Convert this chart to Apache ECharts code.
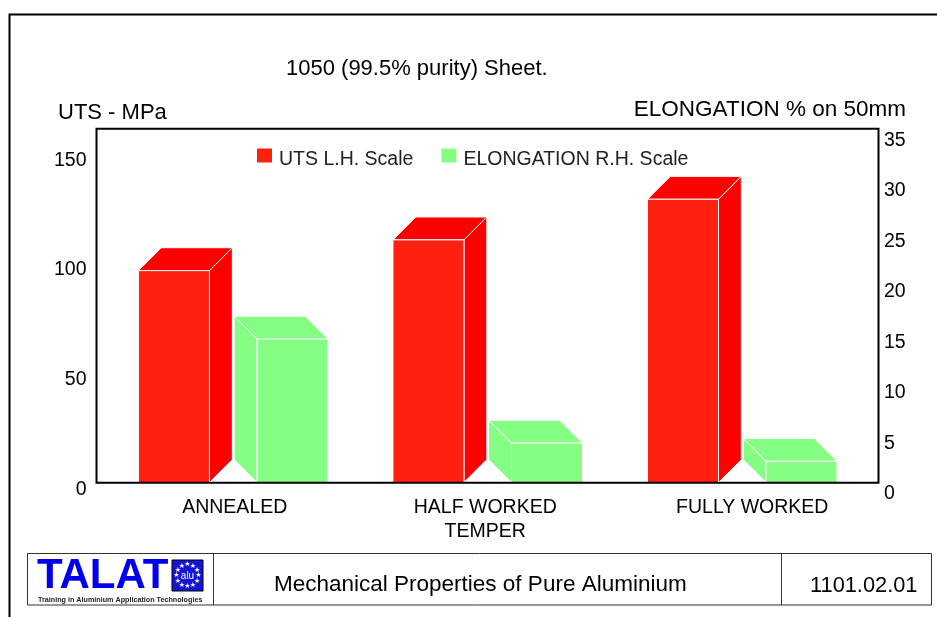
<!DOCTYPE html>
<html>
<head>
<meta charset="utf-8">
<title>Mechanical Properties of Pure Aluminium</title>
<script src="https://cdn.jsdelivr.net/npm/echarts@6/dist/echarts.min.js"></script>
<style>
  html, body { margin: 0; padding: 0; background: #fff; }
  #main { width: 937px; height: 617px; }
</style>
</head>
<body>
<div id="main"></div>
<script>
var tempers = ['ANNEALED', 'HALF WORKED\nTEMPER', 'FULLY WORKED']
var utsMPa = [96.5, 110.5, 129]
var elongationPct = [14.2, 3.9, 2.1]
var utsTicks = [0, 50, 100, 150]
var elongTicks = [0, 5, 10, 15, 20, 25, 30, 35]

var FONT = "'Liberation Sans', Arial, sans-serif"
// small horizontal nudges of the category labels, as in the original
var labelPads = [[0, 0, 0, 3], [0, 5, 0, 0], [0, 0, 0, 20]]

// 3D looking box, side = -1 puts it left of the category centre (depth goes right),
// side = 1 puts it right of the centre (depth goes left)
function box3d(side, frontColor, shadeColor) {
  return function (params, api) {
    var i = api.value(0)
    var base = api.coord([i, 0])
    var top = api.coord([i, api.value(1)])
    var band = api.size([1, 0])[0]
    var w = band * 0.279
    var d = band * 0.09
    var cx = base[0] + side * band * 0.233
    var x0 = cx - w / 2
    var x1 = cx + w / 2
    var y0 = base[1]
    var y1 = top[1]
    var dx = side < 0 ? d : -d
    var ex = side < 0 ? x1 : x0
    var edge = { stroke: '#fff', lineWidth: 1 }
    return {
      type: 'group',
      children: [
        {
          type: 'polygon',
          shape: { points: [[ex, y0], [ex, y1], [ex + dx, y1 - d], [ex + dx, y0 - d]] },
          style: Object.assign({ fill: shadeColor }, edge)
        },
        {
          type: 'polygon',
          shape: { points: [[x0, y1], [x1, y1], [x1 + dx, y1 - d], [x0 + dx, y1 - d]] },
          style: Object.assign({ fill: shadeColor }, edge)
        },
        {
          type: 'rect',
          shape: { x: x0, y: y1, width: w, height: y0 - y1 },
          style: Object.assign({ fill: frontColor }, edge)
        }
      ]
    }
  }
}

function txt(text, x, y, size, opts) {
  opts = opts || {}
  return {
    type: 'text',
    x: x,
    y: y,
    silent: true,
    style: {
      text: text,
      fontSize: size,
      fontFamily: opts.family || FONT,
      fontWeight: opts.weight || 'normal',
      fill: opts.color || '#000',
      align: opts.align || 'left',
      verticalAlign: 'middle'
    }
  }
}

// stars of the little flag
var stars = []
for (var k = 0; k < 12; k++) {
  var a = (k / 12) * Math.PI * 2
  stars.push({
    type: 'text',
    x: 187.5 + Math.cos(a) * 11,
    y: 575.5 + Math.sin(a) * 11,
    silent: true,
    style: { text: '\u2605', fontSize: 7, fontFamily: 'DejaVu Sans', fill: '#fff', align: 'center', verticalAlign: 'middle' }
  })
}

var myChart = echarts.init(document.getElementById('main'))
var option = {
  backgroundColor: '#fff',
  animation: false,
  legend: {
    left: 257,
    top: 141.5,
    padding: 0,
    itemWidth: 15,
    itemHeight: 14,
    itemGap: 28,
    selectedMode: false,
    data: [
      { name: 'UTS L.H. Scale', icon: 'rect' },
      { name: 'ELONGATION R.H. Scale', icon: 'rect' }
    ],
    // empty first line pushes the text a little below the square
    formatter: function (name) { return '\n' + name },
    textStyle: {
      fontFamily: FONT,
      fontSize: 19.5,
      lineHeight: 8,
      color: '#222',
      padding: [0, 0, 0, 2]
    }
  },
  grid: {
    left: 106,
    right: 67.5,
    top: 129,
    bottom: 134.5
  },
  xAxis: {
    type: 'category',
    data: tempers.map(function (t, i) {
      return { value: t, textStyle: { padding: labelPads[i] } }
    }),
    axisLine: { show: false },
    axisTick: { show: false },
    axisLabel: {
      interval: 0,
      margin: 13,
      fontFamily: FONT,
      fontSize: 19.5,
      lineHeight: 24,
      color: '#000'
    }
  },
  yAxis: [
    {
      type: 'value',
      position: 'left',
      min: 0,
      max: 161,
      interval: 50,
      offset: 9.5,
      axisLine: { show: false },
      axisTick: { show: false },
      splitLine: { show: false },
      axisLabel: {
        margin: 10,
        fontFamily: FONT,
        fontSize: 19.5,
        lineHeight: 14,
        color: '#000',
        formatter: function (v) { return utsTicks.indexOf(v) >= 0 ? '\n' + v : '' }
      }
    },
    {
      type: 'value',
      position: 'right',
      min: 0,
      max: 35,
      interval: 5,
      offset: 9,
      axisLine: { show: false },
      axisTick: { show: false },
      splitLine: { show: false },
      axisLabel: {
        margin: 5.5,
        fontFamily: FONT,
        fontSize: 19.5,
        lineHeight: 22.5,
        color: '#000',
        formatter: function (v) { return elongTicks.indexOf(v) >= 0 ? '\n' + v : '' }
      }
    }
  ],
  series: [
    {
      name: 'UTS L.H. Scale',
      type: 'custom',
      yAxisIndex: 0,
      itemStyle: { color: '#ff200f' },
      renderItem: box3d(-1, '#ff200f', '#ff0000'),
      encode: { x: 0, y: 1 },
      data: utsMPa.map(function (v, i) { return [i, v] })
    },
    {
      name: 'ELONGATION R.H. Scale',
      type: 'custom',
      yAxisIndex: 1,
      itemStyle: { color: '#84ff84' },
      renderItem: box3d(1, '#84ff84', '#84ff84'),
      encode: { x: 0, y: 1 },
      data: elongationPct.map(function (v, i) { return [i, v] })
    }
  ],
  graphic: [
    // outer frame
    {
      type: 'polyline',
      silent: true,
      shape: { points: [[9.5, 617], [9.5, 14.5], [937, 14.5]] },
      style: { stroke: '#000', lineWidth: 2, fill: null }
    },
    // plot box
    {
      type: 'rect',
      silent: true,
      z: 10,
      shape: { x: 96.5, y: 128.7, width: 782, height: 354 },
      style: { stroke: '#000', lineWidth: 2, fill: null }
    },
    txt('1050 (99.5% purity) Sheet.', 286, 68.7, 22),
    txt('UTS - MPa', 58, 113, 22),
    txt('ELONGATION % on 50mm', 906, 109.7, 22.5, { align: 'right' }),
    // footer
    {
      type: 'rect',
      silent: true,
      shape: { x: 27.5, y: 553.5, width: 904, height: 51.5 },
      style: { stroke: '#333', lineWidth: 1, fill: null }
    },
    {
      type: 'line',
      silent: true,
      shape: { x1: 213.5, y1: 553.5, x2: 213.5, y2: 605 },
      style: { stroke: '#333', lineWidth: 1 }
    },
    {
      type: 'line',
      silent: true,
      shape: { x1: 781.5, y1: 553.5, x2: 781.5, y2: 605 },
      style: { stroke: '#333', lineWidth: 1 }
    },
    txt('TALAT', 37, 576.5, 42, { weight: 'bold', color: '#0000ee' }),
    {
      type: 'rect',
      silent: true,
      shape: { x: 172, y: 560, width: 31, height: 31 },
      style: { fill: '#1414d8', stroke: '#000', lineWidth: 1 }
    }
  ].concat(stars).concat([
    txt('alu', 187.5, 576, 10, { align: 'center', color: '#fff' }),
    txt('Training in Aluminium Application Technologies', 38, 600, 7.2, { weight: 'bold', color: '#222' }),
    txt('Mechanical Properties of Pure Aluminium', 274, 585, 22.5),
    txt('1101.02.01', 810, 586, 21.8)
  ])
}
myChart.setOption(option)
</script>
</body>
</html>
